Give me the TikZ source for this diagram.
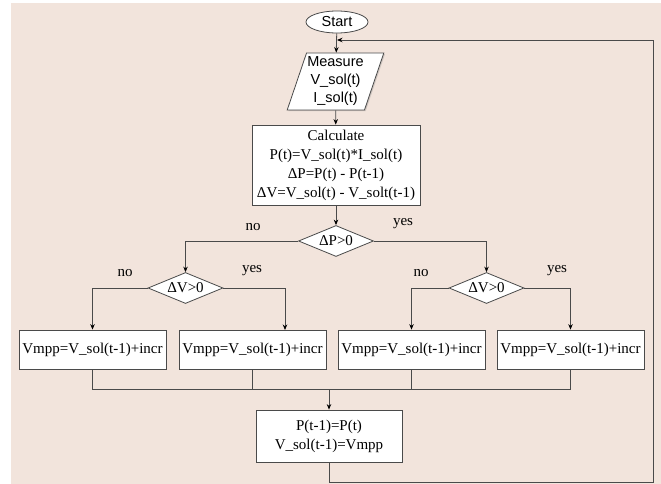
\documentclass[tikz,border=0pt]{standalone}
\usepackage{fontspec}
\setmainfont{Liberation Serif}
\setsansfont{Liberation Sans}
\usepackage{xcolor}
\usetikzlibrary{arrows.meta}
\usetikzlibrary{shapes.geometric}
\usetikzlibrary{shadows}
\definecolor{fond}{HTML}{F2E4DC}
\definecolor{trait}{HTML}{4A4A4A}

\tikzset{
  ombre/.style={drop shadow={shadow xshift=1.2pt, shadow yshift=-1.2pt, opacity=.3}},
  boite/.style={draw=trait, line width=0.8pt, fill=white, rectangle, align=center, inner sep=1pt, ombre,
    font=\fontsize{15}{19}\selectfont},
  debut/.style={draw=trait, line width=0.8pt, fill=white, ellipse, inner sep=0pt, minimum width=62pt,
    minimum height=22pt, font=\sffamily\fontsize{14.5}{18}\selectfont},
  mesure/.style={draw=trait, line width=0.8pt, fill=white, trapezium, trapezium left angle=69,
    trapezium right angle=111, trapezium stretches=true, minimum width=97pt, minimum height=57pt,
    inner sep=0pt, align=center, ombre, font=\sffamily\fontsize{14.5}{18}\selectfont},
  test/.style={draw=trait, line width=0.8pt, fill=white, diamond, aspect=2.4, inner sep=0pt,
    minimum width=75pt, minimum height=31pt, font=\fontsize{15}{18}\selectfont},
  etiq/.style={font=\fontsize{15}{18}\selectfont},
  fleche/.style={draw=trait, line width=0.8pt, -{Stealth[length=5.5pt, width=4.5pt, color=black]}},
  ligne/.style={draw=trait, line width=0.8pt}
}

\begin{document}
\begin{tikzpicture}[x=1pt, y=-1pt]
    \useasboundingbox (0,0) rectangle (661,484);
    % fond
    \fill[white] (0,0) rectangle (661,484);
    \fill[fond] (11,3) rectangle (661,484);
    % blocs
    \node[debut] (start) at (337,22) {Start};
    \node[mesure] (mesure) at (335.5,81.5) {Measure\\V\_sol(t)\\I\_sol(t)};
    \node[boite, minimum width=168pt, minimum height=80pt] (calcul) at (336,165)
        {Calculate\\P(t)=V\_sol(t)*I\_sol(t)\\ΔP=P(t) - P(t-1)\\ΔV=V\_sol(t) - V\_solt(t-1)};
    \node[test] (dP) at (336,241) {ΔP>0};
    \node[test] (dVg) at (185.5,288) {ΔV>0};
    \node[test] (dVd) at (486.5,288) {ΔV>0};
    \node[boite, minimum width=147pt, minimum height=39pt] (b1) at (92.5,349.5) {Vmpp=V\_sol(t-1)+incr};
    \node[boite, minimum width=147pt, minimum height=39pt] (b2) at (252.5,349.5) {Vmpp=V\_sol(t-1)+incr};
    \node[boite, minimum width=147pt, minimum height=39pt] (b3) at (411.5,349.5) {Vmpp=V\_sol(t-1)+incr};
    \node[boite, minimum width=147pt, minimum height=39pt] (b4) at (570.5,349.5) {Vmpp=V\_sol(t-1)+incr};
    \node[boite, minimum width=146pt, minimum height=52pt] (maj) at (329,436) {P(t-1)=P(t)\\V\_sol(t-1)=Vmpp};
    % etiquettes
    \node[etiq] (non1) at (253,227) {no};
    \node[etiq] (oui1) at (403,224) {yes};
    \node[etiq] (non2) at (125,273) {no};
    \node[etiq] (oui2) at (252,271) {yes};
    \node[etiq] (non3) at (421,273) {no};
    \node[etiq] (oui3) at (557,271) {yes};
    % points de passage
    \coordinate (entreeb2) at (285,330);
    \coordinate (jonction) at (329,389);
    \coordinate (coinbas) at (653,482);
    \coordinate (coinhaut) at (653,40);
    % liaisons
    \draw[fleche] (start) -- (mesure);
    \draw[fleche] (mesure) -- (calcul);
    \draw[fleche] (calcul) -- (dP);
    \draw[fleche] (dP.west) -| (dVg.north);
    \draw[fleche] (dP.east) -| (dVd.north);
    \draw[fleche] (dVg.west) -| (b1.north);
    \draw[fleche] (dVg.east) -| (entreeb2);
    \draw[fleche] (dVd.west) -| (b3.north);
    \draw[fleche] (dVd.east) -| (b4.north);
    % regroupement
    \draw[ligne] (b1.south) -- (b1.south |- jonction) -- (b4.south |- jonction) -- (b4.south);
    \draw[ligne] (b2.south) -- (b2.south |- jonction);
    \draw[ligne] (b3.south) -- (b3.south |- jonction);
    \draw[fleche] (jonction) -- (maj);
    % retour
    \draw[fleche] (maj.south) |- (coinbas) -- (coinhaut) -- (coinhaut -| start);
\end{tikzpicture}
\end{document}
